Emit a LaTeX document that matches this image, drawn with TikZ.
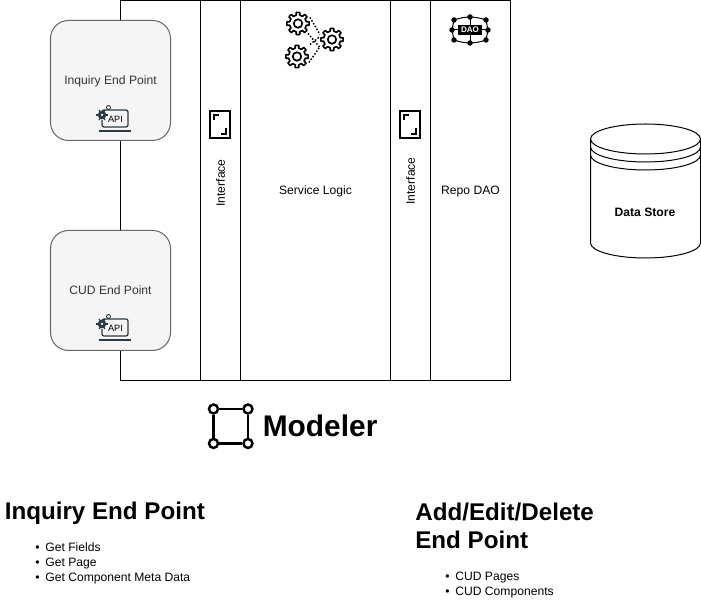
\documentclass[tikz,border=0pt]{standalone}
\usepackage{fontspec}
\setmainfont{Liberation Sans}
\usetikzlibrary{positioning}
\definecolor{epFill}{HTML}{F5F5F5}
\definecolor{epDraw}{HTML}{666666}
\definecolor{epText}{HTML}{333333}
\definecolor{iconSlate}{HTML}{2B3A42}
\newcommand{\smalltxt}{\fontsize{6.9}{8.5}\selectfont}
\newcommand{\headtxt}{\fontsize{13.75}{16.3}\selectfont\bfseries}
\newcommand{\listbul}{\makebox[0.2cm][l]{\textbullet}}
\tikzset{
  px/.style={line width=0.57pt},
  colBox/.style={rectangle, draw=black, px, fill=white, outer sep=0pt,
                 minimum height=7.6cm, align=center},
  colTxt/.style={inner sep=0pt, font=\smalltxt},
  endBox/.style={rectangle, rounded corners=0.36cm, draw=epDraw, px, fill=epFill,
                 text=epText, minimum width=2.4cm, minimum height=2.4cm, font=\smalltxt,
                 text height=0.22cm, text depth=0.04cm},
  sideTxt/.style={rotate=90, inner sep=0pt, font=\smalltxt},
  headTxt/.style={anchor=west, inner sep=0pt, align=left, font=\headtxt},
  listTxt/.style={anchor=north west, inner sep=0pt, align=left, font=\fontsize{6.9}{8.55}\selectfont},
  cornerDot/.style={circle, draw=black, line width=1.4pt, fill=white, inner sep=0pt,
                    minimum size=0.18cm},
  gearicon/.pic={
    \draw[line width=0.95pt, line join=round] (-21:0.17)
      \foreach \a in {0,45,...,315} {
        -- (\a-12:0.17) -- (\a-9:0.225) -- (\a+9:0.225) -- (\a+12:0.17) -- (\a+33:0.17)
      } -- cycle;
    \draw[line width=0.95pt] (0,0) circle (0.085);
  },
  frameicon/.pic={
    \draw[black, line width=1.25pt] (-0.2,-0.27) rectangle (0.2,0.27);
    \draw[black, line width=1.25pt] (-0.12,0.08) -- (-0.12,0.19) -- (-0.02,0.19);
    \draw[black, line width=1.25pt] (0.12,-0.08) -- (0.12,-0.19) -- (0.02,-0.19);
  },
  apiicon/.pic={
    \draw[iconSlate, line width=0.7pt, rounded corners=0.04cm] (-0.26,0.1) -- (-0.26,0.22) -- (0.26,0.22)
      -- (0.26,-0.12) -- (-0.26,-0.12) -- (-0.26,0.02);
    \draw[iconSlate, line width=0.95pt] (-0.32,-0.2) -- (0.32,-0.2);
    \fill[iconSlate] (-0.26,0.12) circle (0.085);
    \foreach \a in {0,60,...,300} \draw[iconSlate, line width=0.75pt] (-0.26,0.12) -- ++(\a:0.115);
    \fill[white] (-0.26,0.12) circle (0.025);
    \draw[iconSlate, line width=0.5pt] (-0.13,0.27) circle (0.04);
    \node[inner sep=0pt, text=black, font=\fontsize{5.2}{6}\selectfont] (apitxt) at (0.01,0.03) {API};
  },
}
\begin{document}
\begin{tikzpicture}[font=\smalltxt, node distance=0pt]
  \useasboundingbox (0,0) rectangle (14.02,-12.22);
  % main panel
  \node[colBox, minimum width=1.6cm] (apicol) at (3.21,-3.81) {};
  \node[colBox, right=of apicol, minimum width=0.8cm] (ifleft) {};
  \node[colBox, right=of ifleft, minimum width=3.0cm] (svccol) {};
  \node[colBox, right=of svccol, minimum width=0.8cm] (ifright) {};
  \node[colBox, right=of ifright, minimum width=1.6cm] (daocol) {};
  \node[colTxt] (svctxt) at (6.31,-3.83) {Service Logic};
  \node[colTxt] (daotxt) at (9.41,-3.83) {Repo DAO};
  \node[sideTxt] (iflabA) at (4.41,-3.66) {Interface};
  \node[sideTxt] (iflabB) at (8.21,-3.62) {Interface};
  \pic at (4.4,-2.49) {frameicon};
  \pic at (8.2,-2.49) {frameicon};
  % end points
  \node[endBox] (inqbox) at (2.21,-1.61) {Inquiry End Point};
  \node[endBox] (cudbox) at (2.21,-5.81) {CUD End Point};
  \pic at (2.3,-2.42) {apiicon};
  \pic at (2.3,-6.6) {apiicon};
  % service logic icon
  \coordinate (gearA) at (5.96,-0.47);
  \coordinate (gearB) at (5.94,-1.13);
  \coordinate (gearC) at (6.64,-0.79);
  \foreach \a in {gearA,gearB,gearC} \pic at (\a) {gearicon};
  \draw[densely dotted, line width=0.85pt] ([shift={(0.24,0.12)}]gearA) -- ([shift={(-0.24,0.1)}]gearC);
  \draw[densely dotted, line width=0.85pt] ([shift={(0.2,-0.2)}]gearA) -- ([shift={(-0.24,-0.16)}]gearC);
  \draw[densely dotted, line width=0.85pt] ([shift={(0.26,0.24)}]gearB) -- ([shift={(-0.24,0.06)}]gearC);
  \draw[densely dotted, line width=0.85pt] ([shift={(0.24,-0.12)}]gearB) -- ([shift={(-0.24,-0.14)}]gearC);
  % dao icon
  \node[fill=black, text=white, inner sep=0pt, minimum width=0.48cm, minimum height=0.2cm,
        font=\fontsize{4.6}{5}\bfseries\selectfont] (daotag) at (9.4,-0.6) {DAO};
  \coordinate (daoNW) at (9.08,-0.4);
  \coordinate (daoNE) at (9.72,-0.4);
  \coordinate (daoSW) at (9.08,-0.8);
  \coordinate (daoSE) at (9.72,-0.8);
  \coordinate (daoN) at (9.4,-0.34);
  \coordinate (daoS) at (9.4,-0.86);
  \coordinate (daoW) at (9.04,-0.6);
  \coordinate (daoE) at (9.76,-0.6);
  \draw[px] (daoNW) to[bend left=8] (daoN) to[bend left=8] (daoNE) -- (daoE) -- (daoSE)
    to[bend left=8] (daoS) to[bend left=8] (daoSW) -- (daoW) -- cycle;
  \draw[px] (daoN) -- (daotag) -- (daoS);
  \draw[px] (daoW) -- (daotag) -- (daoE);
  \foreach \a in {daoNW,daoNE,daoSW,daoSE,daoN,daoS,daoW,daoE} \fill (\a) circle (0.055);
  % data store
  \draw[px, fill=white] (11.81,-2.78) arc[start angle=180, end angle=0, x radius=1.1, y radius=0.3]
    -- (14.01,-4.86) arc[start angle=0, end angle=-180, x radius=1.1, y radius=0.3] -- cycle;
  \foreach \y in {-2.78,-2.94,-3.1}
    \draw[px] (11.81,\y) arc[start angle=180, end angle=360, x radius=1.1, y radius=0.3];
  \node[inner sep=0pt, font=\smalltxt\bfseries] (dstore) at (12.9,-4.25) {Data Store};
  % modeler
  \node[cornerDot] (cornerA) at (4.27,-8.18) {};
  \node[cornerDot, right=0.46cm of cornerA] (cornerB) {};
  \node[cornerDot, below=0.46cm of cornerA] (cornerC) {};
  \node[cornerDot, right=0.46cm of cornerC] (cornerD) {};
  \draw[line width=1.5pt] (cornerA) -- (cornerB) -- (cornerD) -- (cornerC) -- (cornerA);
  \node[headTxt, font=\fontsize{17}{20}\selectfont\bfseries] (modeler) at (5.25,-8.52) {Modeler};
  % end point lists
  \node[headTxt] (inqhead) at (0.09,-10.26) {Inquiry End Point};
  \node[listTxt] (inqlist) at (0.7,-10.85) {\listbul Get Fields\\ \listbul Get Page\\ \listbul Get Component Meta Data};
  \node[headTxt] (addhead) at (8.3,-10.52) {Add/Edit/Delete\\End Point};
  \node[listTxt] (addlist) at (8.9,-11.44) {\listbul CUD Pages\\ \listbul CUD Components};
\end{tikzpicture}
\end{document}
